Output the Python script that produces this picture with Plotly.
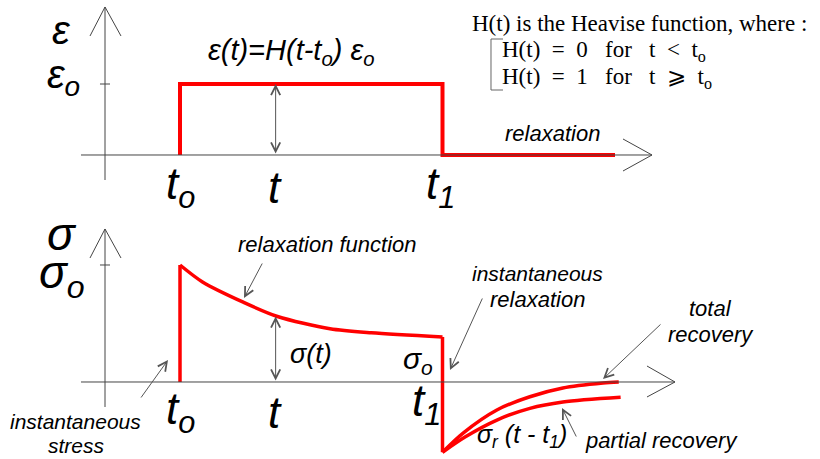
import plotly.graph_objects as go

W, H = 820, 459

# time marks (diagram units)
t0, t_mid, t1 = 2.0, 4.55, 9.0
eps0, sig0 = 1.0, 1.0

# strain history: eps(t) = H(t - t0) eps0, removed at t1
strain_t = [2.0, 2.0, 9.0, 9.0, 13.6]
strain_v = [0.0, 1.0, 1.0, 0.0, 0.0]

# stress relaxation between t0 and t1
relax_t = [2.0, 2.6, 3.7, 4.6, 6.0, 7.1, 9.0]
relax_v = [1.0, 0.855, 0.68, 0.56, 0.455, 0.42, 0.385]

# stress after unloading at t1
sig_min = -0.60
total_t = [9.0, 9.55, 10.45, 11.33, 12.21, 13.28, 13.7]
total_v = [-0.60, -0.436, -0.239, -0.126, -0.051, -0.009, 0.0]
partial_t = [9.0, 9.6, 10.45, 11.33, 12.21, 13.75]
partial_v = [-0.60, -0.47, -0.325, -0.225, -0.171, -0.131]

RED = "#ff0000"
AX = "#444444"
ARR = "#555555"
SERIF = "Liberation Serif"
ITAL = "Liberation Sans"


def P(px, py):
    return px / W, 1 - py / H


fig = go.Figure()

fig.add_trace(go.Scatter(x=strain_t, y=strain_v, mode="lines", yaxis="y",
                         line=dict(color=RED, width=4), hoverinfo="skip"))
fig.add_trace(go.Scatter(x=[t0, t0], y=[0, sig0], mode="lines", yaxis="y2",
                         line=dict(color=RED, width=3.5), hoverinfo="skip"))
fig.add_trace(go.Scatter(x=relax_t, y=relax_v, mode="lines", yaxis="y2",
                         line=dict(color=RED, width=3.5, shape="spline", smoothing=0.8),
                         hoverinfo="skip"))
fig.add_trace(go.Scatter(x=[t1, t1], y=[relax_v[-1], sig_min], mode="lines", yaxis="y2",
                         line=dict(color=RED, width=3.5), hoverinfo="skip"))
fig.add_trace(go.Scatter(x=total_t, y=total_v, mode="lines", yaxis="y2",
                         line=dict(color=RED, width=3.5, shape="spline", smoothing=0.8),
                         hoverinfo="skip"))
fig.add_trace(go.Scatter(x=partial_t, y=partial_v, mode="lines", yaxis="y2",
                         line=dict(color=RED, width=3.5, shape="spline", smoothing=0.8),
                         hoverinfo="skip"))

# hand-drawn axes with open arrow heads
shapes = []


def seg(pts, color=AX, width=1):
    x0, y0 = P(*pts[0])
    path = "M%.5f,%.5f" % (x0, y0)
    for p in pts[1:]:
        x, y = P(*p)
        path += " L%.5f,%.5f" % (x, y)
    shapes.append(dict(type="path", path=path, xref="paper", yref="paper",
                       line=dict(color=color, width=width)))


# top panel
seg([(105, 7), (105, 180)])
seg([(90, 36), (105, 7), (121, 36)])
seg([(81, 155), (652, 155)])
seg([(623, 139), (652, 155), (623, 171)])
seg([(100, 84), (110, 84)])
# bottom panel
seg([(105, 229), (105, 407)])
seg([(90, 258), (105, 229), (121, 258)])
seg([(81, 382), (675, 382)])
seg([(647, 366), (675, 382), (647, 397)])
seg([(100, 265), (110, 265)])
# bracket for H(t) cases
seg([(503, 39), (491, 39), (491, 90), (503, 90)], color="#666666")

ann = []


def label(px, py, text, size=22, italic=True, xanchor="center"):
    x, y = P(px, py)
    ann.append(dict(x=x, y=y, xref="paper", yref="paper", text=("<i>%s</i>" % text) if italic else text,
                    showarrow=False, xanchor=xanchor, yanchor="middle",
                    font=dict(family=ITAL if italic else SERIF, size=size, color="black")))


def pointer(tail, head):
    x, y = P(*head)
    ann.append(dict(x=x, y=y, xref="paper", yref="paper", text="",
                    ax=tail[0] - head[0], ay=tail[1] - head[1],
                    showarrow=True, arrowhead=5, arrowsize=1.8, arrowwidth=1, arrowcolor=ARR))


# double arrows at t
ann.append(dict(x=t_mid, y=eps0, ax=t_mid, ay=0, xref="x", yref="y", axref="x", ayref="y",
                text="", showarrow=True, arrowhead=5, arrowside="end+start",
                arrowsize=1.8, arrowwidth=1, arrowcolor=ARR))
ann.append(dict(x=t_mid, y=relax_v[3], ax=t_mid, ay=0, xref="x", yref="y2", axref="x", ayref="y2",
                text="", showarrow=True, arrowhead=5, arrowside="end+start",
                arrowsize=1.8, arrowwidth=1, arrowcolor=ARR))

# top panel text
label(61, 30, "ε", 40)
label(63, 77, "ε<sub>o</sub>", 40)
label(291, 52, "ε(t)=H(t-t<sub>o</sub>) ε<sub>o</sub>", 29)
label(180, 187, "t<sub>o</sub>", 44)
label(275, 187, "t", 44)
label(440, 187, "t<sub>1</sub>", 44)
label(552, 134, "relaxation", 22)
nb = "\u00a0"
label(470, 23, "H(t) is the Heavise function, where :", 23, italic=False, xanchor="left")
label(500, 51, "H(t)" + nb * 2 + "=" + nb * 2 + "0" + nb * 3 + "for" + nb * 3 + "t" + nb * 2 + "<" + nb * 2 + "t<sub>o</sub>",
      23, italic=False, xanchor="left")
label(500, 78, "H(t)" + nb * 2 + "=" + nb * 2 + "1" + nb * 3 + "for" + nb * 3 + "t" + nb * 2 + "⩾" + nb * 2 + "t<sub>o</sub>",
      23, italic=False, xanchor="left")

# bottom panel text
label(62, 234, "σ", 46)
label(62, 275, "σ<sub>o</sub>", 46)
label(327, 245, "relaxation function", 22)
label(311, 354, "σ(t)", 27)
label(418, 360, "σ<sub>o</sub>", 30)
label(537, 273, "instantaneous", 21)
label(537, 299, "relaxation", 22)
label(710, 308, "total", 22)
label(711, 334, "recovery", 22)
label(522, 436, "σ<sub>r</sub> (t - t<sub>1</sub>)", 25)
label(661, 440, "partial recovery", 22)
label(75, 421, "instantaneous", 21)
label(76, 445, "stress", 21)
label(180, 412, "t<sub>o</sub>", 44)
label(275, 412, "t", 44)
label(426, 404, "t<sub>1</sub>", 44)

pointer((263, 262), (244, 298))
pointer((140, 399), (168, 360))
pointer((483, 297), (450, 370))
pointer((662, 323), (603, 379))
pointer((577, 438), (562, 408))

fig.update_layout(
    width=W, height=H,
    margin=dict(l=0, r=0, t=0, b=0),
    paper_bgcolor="white", plot_bgcolor="white",
    showlegend=False,
    xaxis=dict(range=[(0 - 105) / 37.5, (W - 105) / 37.5], visible=False, fixedrange=True),
    yaxis=dict(range=[(155 - H) / 71, 155 / 71], visible=False, fixedrange=True),
    yaxis2=dict(range=[(382 - H) / 117, 382 / 117], visible=False, overlaying="y", fixedrange=True),
    shapes=shapes,
    annotations=ann,
)

# page body has a default 8px margin; drop it so the figure fills the window
fig.write_html("out.html", config={"displayModeBar": False},
               post_script="document.body.style.margin='0';document.body.style.overflow='hidden';")
